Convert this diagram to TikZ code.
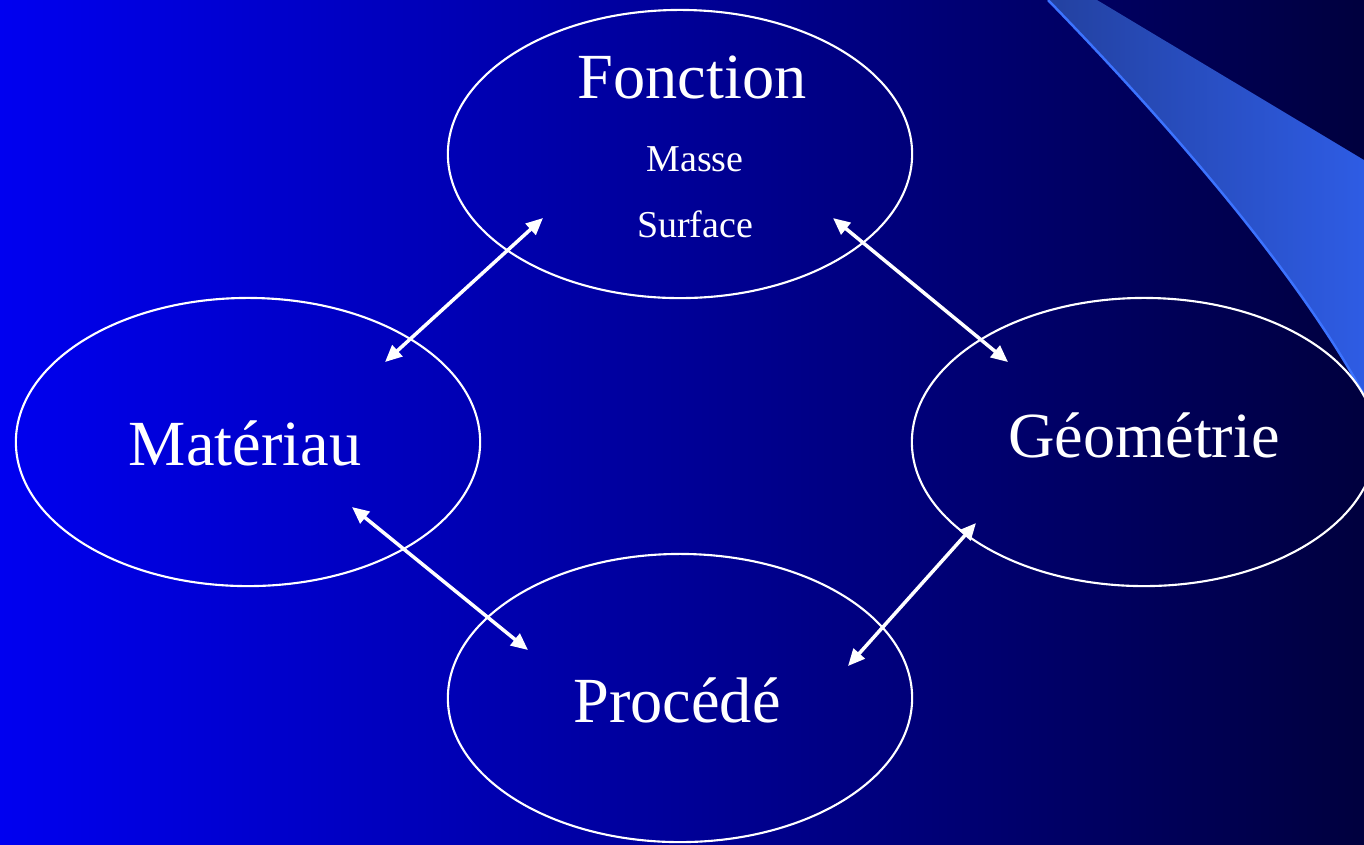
\documentclass[tikz,border=0pt]{standalone}
\usepackage{fontspec}
\setmainfont{Liberation Serif}
\usepackage{tikz}
\usetikzlibrary{arrows.meta,shapes,calc,positioning}
\definecolor{bleuVif}{RGB}{0,0,240}
\definecolor{bleuMilieu}{RGB}{0,0,196}
\definecolor{bleuNuit}{RGB}{0,0,62}
\definecolor{bleuVoile}{RGB}{35,65,160}
\definecolor{bleuVoileClair}{RGB}{46,92,228}
\definecolor{bleuBord}{RGB}{60,115,255}
\tikzstyle{bulle}=[ellipse, draw=white, line width=0.6pt,
                   minimum width=4.64cm, minimum height=2.88cm,
                   inner sep=0pt, outer sep=0pt]
\tikzstyle{titre}=[text=white, font=\fontsize{18.3}{22}\selectfont,
                   inner sep=0pt, anchor=base]
\tikzstyle{petit}=[text=white, font=\fontsize{10.8}{13}\selectfont,
                   inner sep=0pt, anchor=base]
\tikzstyle{fleche}=[{Triangle[length=4.8pt,width=4.2pt]}-{Triangle[length=4.8pt,width=4.2pt]},
                    white, line width=1pt]

\begin{document}
\begin{tikzpicture}[x=0.01cm,y=-0.01cm]
    \useasboundingbox (0,0) rectangle (1364,844);
    \shade[left color=bleuVif, middle color=bleuMilieu, right color=bleuNuit]
        (0,0) rectangle (1364,844);

    % voile du coin
    \shade[left color=bleuVoile, right color=bleuVoileClair]
        (1048,0) -- (1097,0) -- (1364,160) -- (1364,395)
        .. controls (1290,260) and (1150,105) .. (1048,0);
    \draw[bleuBord, line width=0.7pt]
        (1048,0) .. controls (1150,105) and (1290,260) .. (1364,395);

    \draw (680,154) node (fonction) [bulle] {};
    \draw (248,442) node (materiau) [bulle] {};
    \draw (1144,442) node (geometrie) [bulle] {};
    \draw (680,698) node (procede) [bulle] {};

    \draw (692,98) node (tFonction) [titre] {Fonction};
    \draw (695,171) node (tMasse) [petit] {Masse};
    \draw (695,237) node (tSurface) [petit] {Surface};
    \draw (245,465) node (tMateriau) [titre] {Matériau};
    \draw (1144,457) node (tGeometrie) [titre] {Géométrie};
    \draw (677,722) node (tProcede) [titre] {Procédé};

    \coordinate (f1) at (543,218);
    \coordinate (m1) at (385,362);
    \coordinate (f2) at (833,218);
    \coordinate (g1) at (1008,362);
    \coordinate (m2) at (352,507);
    \coordinate (p1) at (528,650);
    \coordinate (g2) at (976,523);
    \coordinate (p2) at (848,666);
    \foreach \i/\j in {m1/f1,f2/g1,m2/p1,p2/g2}
        \draw [fleche] (\i) to (\j);
\end{tikzpicture}
\end{document}
